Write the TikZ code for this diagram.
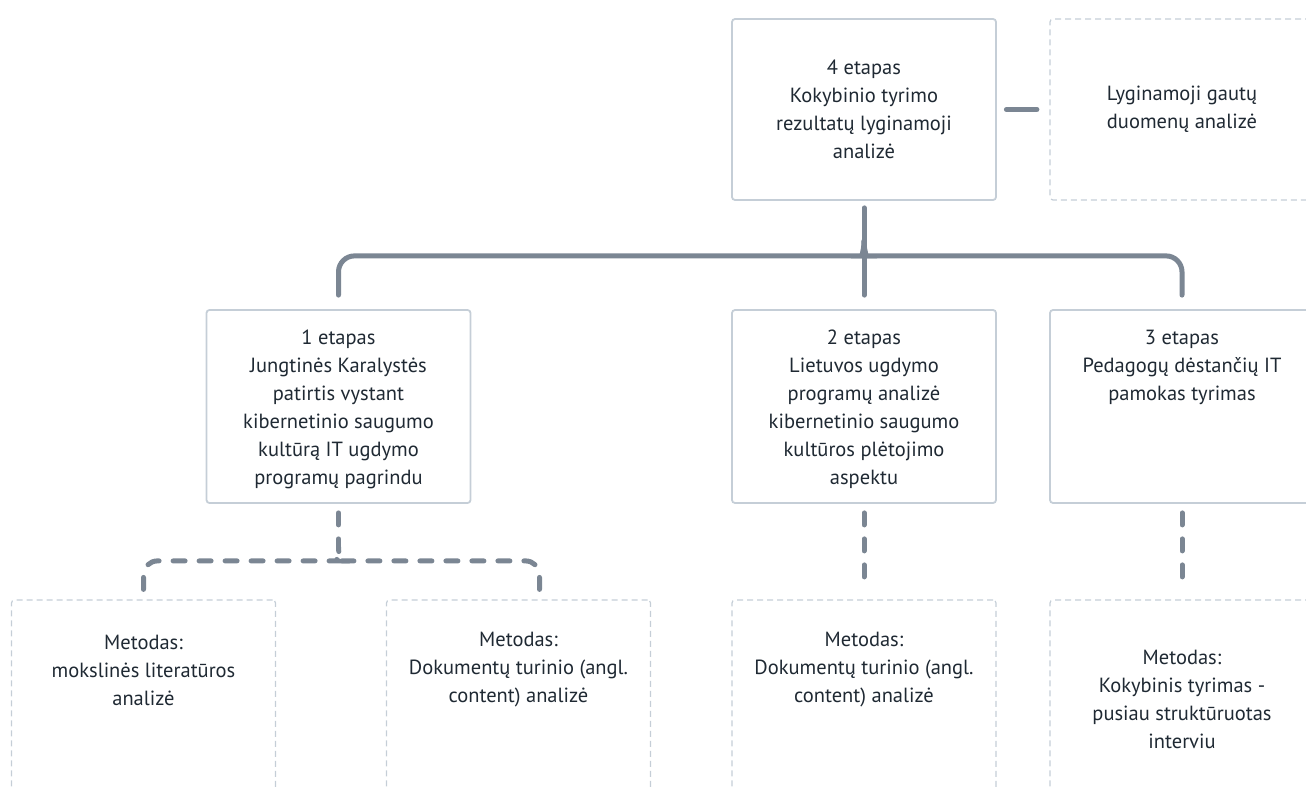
\documentclass[tikz,border=0pt]{standalone}
\usepackage{fontspec}
\setmainfont{PT Sans}
\usetikzlibrary{positioning,calc}
\definecolor{boxline}{HTML}{C5CED7}
\definecolor{connline}{HTML}{7B8693}
\definecolor{textcol}{HTML}{1F2933}
\newcommand{\etapfont}{\fontsize{20.5}{28}\selectfont}
\tikzset{
  etap/.style={draw=boxline, line width=1.8pt, rounded corners=3pt, minimum width=264, minimum height=193},
  method/.style={etap, dash pattern=on 6pt off 4pt, line width=1.2pt},
  txt/.style={text=textcol, align=center, font=\etapfont, inner sep=0pt},
  conn/.style={draw=connline, line width=5pt, line cap=round},
  connd/.style={conn, dash pattern=on 12pt off 14pt},
}
\begin{document}
\begin{tikzpicture}[x=1pt,y=-1pt]
\useasboundingbox (0,0) rectangle (1306,789);
\clip (0,0) rectangle (1306,789);
% boxes
\node[etap, minimum height=181] (b4) at (864,109.5) {};
\node[method, minimum height=181] (r4) at (1182,109.5) {};
\node[etap] (b1) at (338.5,406.5) {};
\node[etap] (b2) at (864,406.5) {};
\node[etap] (b3) at (1182,406.5) {};
\node[method] (ba) at (143.5,696.5) {};
\node[method] (bb) at (518.5,696.5) {};
\node[method] (bc) at (864,696.5) {};
\node[method] (bd) at (1182,696.5) {};
% texts
\node[txt] (t4) at (b4.center) {4 etapas\\Kokybinio tyrimo\\rezultatų lyginamoji\\analizė};
\node[txt] (tr4) at (r4.center) {Lyginamoji gautų\\duomenų analizė};
\node[txt] (t1) at ($(b1.center)+(0,2.5)$) {1 etapas\\Jungtinės Karalystės\\patirtis vystant\\kibernetinio saugumo\\kultūrą IT ugdymo\\programų pagrindu};
\node[txt] (t2) at ($(b2.center)+(0,2.5)$) {2 etapas\\Lietuvos ugdymo\\programų analizė\\kibernetinio saugumo\\kultūros plėtojimo\\aspektu};
\node[txt] (t3) at ($(b3.center)+(0,-39.5)$) {3 etapas\\Pedagogų dėstančių IT\\pamokas tyrimas};
\node[txt] (ta) at ($(ba.center)+(0,-26.5)$) {Metodas:\\mokslinės literatūros\\analizė};
\node[txt] (tb) at ($(bb.center)+(0,-26.5)$) {Metodas:\\Dokumentų turinio (angl.\\content) analizė};
\node[txt] (tc) at ($(bc.center)+(0,-26.5)$) {Metodas:\\Dokumentų turinio (angl.\\content) analizė};
\node[txt] (td) at ($(bd.center)+(0,2.5)$) {Metodas:\\Kokybinis tyrimas -\\pusiau struktūruotas\\interviu};
% connectors
\draw[conn, shorten <=9.5pt, shorten >=12.5pt] (b4.east) -- (r4.west);
\draw[conn, shorten <=7pt, shorten >=14pt] (b4.south) -- (b2.north);
\draw[conn, rounded corners=16pt] ($(b1.north)+(0,-14)$) |- ($(b4.south)+(-16,55)$)
  .. controls +(12,0) and +(0,12) .. ($(b4.south)+(0,40)$);
\draw[conn, rounded corners=16pt] ($(b3.north)+(0,-14)$) |- ($(b4.south)+(16,55)$)
  .. controls +(-12,0) and +(0,12) .. ($(b4.south)+(0,40)$);
% dashed connectors
\draw[connd, shorten <=9pt] (b1.south) -- ($(b1.south)+(0,43)$);
\draw[connd, rounded corners=14pt] ($(ba.north)+(0,-10)$) |- ($(b1.south)+(-14,57)$)
  .. controls +(10,0) and +(0,10) .. ($(b1.south)+(0,43)$);
\draw[connd, rounded corners=14pt] ($(bb.north)+(21,-10)$) |- ($(b1.south)+(14,57)$)
  .. controls +(-10,0) and +(0,10) .. ($(b1.south)+(0,43)$);
\draw[connd, shorten <=9pt, shorten >=10pt] (b2.south) -- (bc.north);
\draw[connd, shorten <=9pt, shorten >=10pt] (b3.south) -- (bd.north);
\end{tikzpicture}
\end{document}
